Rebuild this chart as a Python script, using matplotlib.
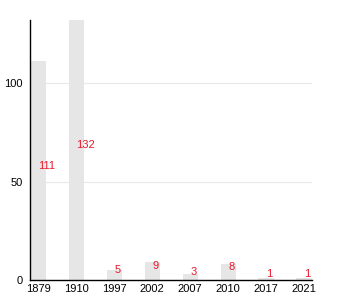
import numpy as np
import matplotlib.pyplot as plt

plt.rcParams['font.family'] = ['Liberation Sans', 'DejaVu Sans']

years = ['1879', '1910', '1997', '2002', '2007', '2010', '2017', '2021']
counts = [111, 132, 5, 9, 3, 8, 1, 1]

fig = plt.figure(figsize=(3.5, 3), dpi=100)
ax = fig.add_axes([30/350, 20/300, 282/350, 260/300])

x = np.arange(len(years))
ax.bar(x, counts, width=0.4, color='#e6e6e6', zorder=2)
for xi, v in zip(x, counts):
    ax.text(xi, v/2, str(v), color='#e8192c', fontsize=8, ha='left', va='bottom', zorder=3)

ax.set_xlim(-0.22, 7.21)
ax.set_ylim(0, 132)
ax.set_xticks(x)
ax.set_xticklabels(years)
ax.set_yticks([0, 50, 100])
ax.yaxis.grid(True, color='#e8e8e8', linewidth=0.8, zorder=0)
ax.set_axisbelow(True)
ax.tick_params(axis='x', length=0, pad=3, labelsize=8)
ax.tick_params(axis='y', length=0, pad=5, labelsize=8)
for s in ['top', 'right']:
    ax.spines[s].set_visible(False)
ax.spines['left'].set_linewidth(1)
ax.spines['bottom'].set_linewidth(1)

fig.savefig('out.png', dpi=100)
